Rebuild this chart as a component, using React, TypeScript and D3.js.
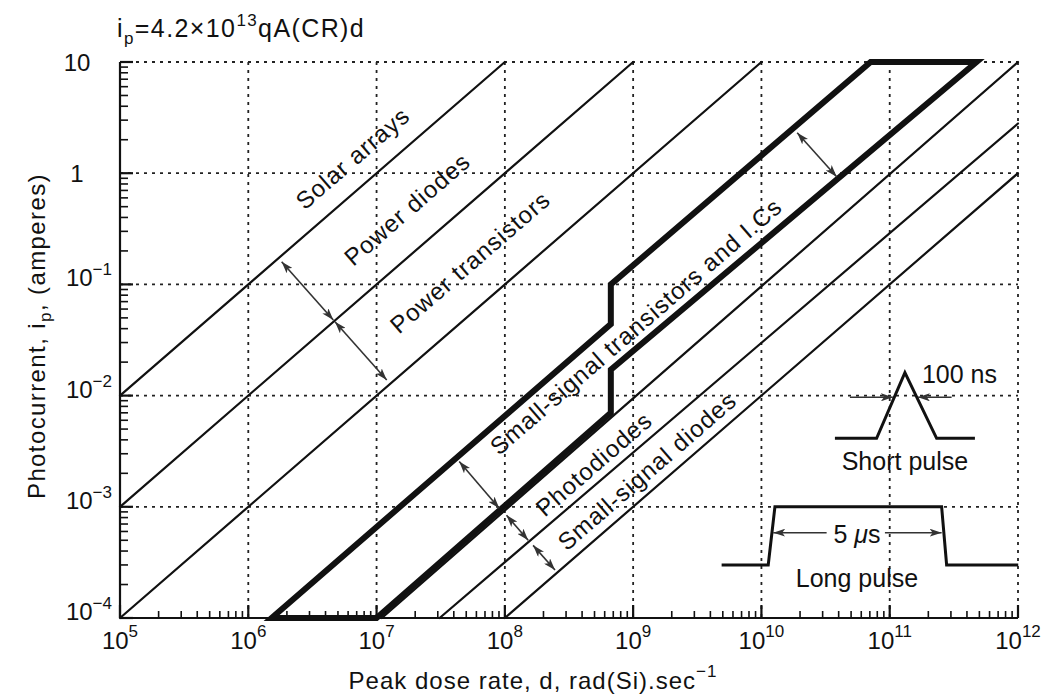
import React from "react";
import * as d3 from "d3";

// plot frame (px)
const W = 1053;
const H = 700;
const plot = { left: 120, right: 1018, top: 62, bottom: 618 };

// axes
const xDecades = [1e5, 1e6, 1e7, 1e8, 1e9, 1e10, 1e11, 1e12];
const xExponents = ["5", "6", "7", "8", "9", "10", "11", "12"];
const yDecades = [1e-4, 1e-3, 1e-2, 1e-1, 1, 10];
const yBases = ["10", "10", "10", "10", "1", "10"];
const yExponents = ["\u22124", "\u22123", "\u22122", "\u22121", "", ""];

// device boundary lines, [dose rate, photocurrent] end points
const thinLines: [number, number][][] = [
  [[1e5, 1e-2], [1e8, 10]],
  [[1e5, 1e-3], [1e9, 10]],
  [[1e5, 1e-4], [1e10, 10]],
  [[1.1e7, 1e-4], [1e12, 10]],
  [[3.1e7, 1e-4], [1e12, 2.8]],
  [[1e8, 1e-4], [1e12, 1]],
];

// small-signal transistors / IC envelope (thick outline)
const envelope: [number, number][] = [
  [1.52e6, 1e-4], [6.7e8, 0.044], [6.7e8, 0.1], [7.1e10, 10],
  [4.75e11, 10], [6.7e8, 0.0171], [6.7e8, 0.007], [1e7, 1e-4],
];

// double headed arrows spanning each band
const bandArrows: [number, number][][] = [
  [[1.82e6, 0.16], [4.6e6, 0.0479]],
  [[4.74e6, 0.0462], [1.2e7, 0.0138]],
  [[1.9e10, 2.31], [3.86e10, 0.93]],
  [[4.41e7, 2.55e-3], [9.04e7, 9.7e-4]],
  [[1.03e8, 8.4e-4], [1.52e8, 5.0e-4]],
  [[1.66e8, 4.5e-4], [2.46e8, 2.7e-4]],
];

const bandNames = [
  "Solar arrays", "Power diodes", "Power transistors",
  "Small-signal transistors and I.Cs", "Photodiodes", "Small-signal diodes",
];
const bandLabelAt: [number, number][] = [
  [6.5e6, 1.37], [1.73e7, 0.476], [5.35e7, 0.159],
  [1.05e9, 0.042], [4.94e8, 2.43e-3], [1.28e9, 2.1e-3],
];

const FONT = "'Liberation Sans', Arial, Helvetica, sans-serif";
const INK = "#111";

export default function App() {
  const x = d3.scaleLog().domain([1e5, 1e12]).range([plot.left, plot.right]);
  const y = d3.scaleLog().domain([1e-4, 10]).range([plot.bottom, plot.top]);
  const line = d3.line<[number, number]>().x((d) => x(d[0])).y((d) => y(d[1]));

  const slope = (Math.atan2(y(0.1) - y(1), x(1e6) - x(1e5)) * 180) / Math.PI;

  const xMinor: number[] = [];
  xDecades.slice(0, -1).forEach((d) => d3.range(2, 10).forEach((m) => xMinor.push(d * m)));
  const yMinor: number[] = [];
  yDecades.slice(0, -1).forEach((d) => d3.range(2, 10).forEach((m) => yMinor.push(d * m)));

  const sp = { x: x(1e11), y: y(1e-2) }; // short pulse inset anchor
  const lp = { x: x(1e10), y: y(1e-3) }; // long pulse inset anchor

  return (
    <svg width={W} height={H} style={{ position: "absolute", left: 0, top: 0, background: "#fff" }} fontFamily={FONT}>
      <defs>
        <marker id="ah" viewBox="0 0 12 8" refX="12" refY="4" markerWidth="12" markerHeight="8"
          markerUnits="userSpaceOnUse" orient="auto-start-reverse">
          <path d="M0,0 L12,4 L0,8 L3,4 Z" fill="#333" />
        </marker>
      </defs>

      {/* title */}
      <text x={117} y={37} fontSize={25} fill={INK} letterSpacing={1.4}>
        i<tspan fontSize={17} dy={7}>p</tspan>
        <tspan dy={-7}>=4.2×10</tspan>
        <tspan fontSize={17} dy={-11}>13</tspan>
        <tspan dy={11}>qA(CR)d</tspan>
      </text>

      {/* grid */}
      <g stroke="#222" strokeWidth={1.8} strokeDasharray="3 5">
        {xDecades.slice(1).map((d) => (
          <line key={"gx" + d} x1={x(d)} x2={x(d)} y1={plot.top} y2={plot.bottom} />
        ))}
        {yDecades.slice(1).map((d) => (
          <line key={"gy" + d} x1={plot.left} x2={plot.right} y1={y(d)} y2={y(d)} />
        ))}
      </g>

      {/* axes + ticks */}
      <g stroke={INK} strokeWidth={2.2}>
        <line x1={plot.left} x2={plot.left} y1={plot.top} y2={plot.bottom} />
        <line x1={plot.left} x2={plot.right} y1={plot.bottom} y2={plot.bottom} />
        {xDecades.map((d) => (
          <line key={"tx" + d} x1={x(d)} x2={x(d)} y1={plot.bottom} y2={plot.bottom - 13} />
        ))}
        {xMinor.map((d) => (
          <line key={"mx" + d} x1={x(d)} x2={x(d)} y1={plot.bottom} y2={plot.bottom - 7} strokeWidth={1.6} />
        ))}
        {yDecades.map((d) => (
          <line key={"ty" + d} x1={plot.left} x2={plot.left + 13} y1={y(d)} y2={y(d)} />
        ))}
        {yMinor.map((d) => (
          <line key={"my" + d} x1={plot.left} x2={plot.left + 8} y1={y(d)} y2={y(d)} strokeWidth={1.6} />
        ))}
      </g>

      {/* tick labels */}
      <g fill={INK} fontSize={24}>
        {xDecades.map((d, i) => (
          <text key={"lx" + d} x={x(d)} y={plot.bottom + 31} textAnchor="middle">
            10<tspan fontSize={17} dy={-12}>{xExponents[i]}</tspan>
          </text>
        ))}
        {yDecades.map((d, i) =>
          yExponents[i] ? (
            <text key={"ly" + d} x={112} y={y(d) + 2} textAnchor="end">
              {yBases[i]}
              <tspan fontSize={17} dy={-11}>{yExponents[i]}</tspan>
            </text>
          ) : (
            <text key={"ly" + d} x={77} y={y(d) + 9} textAnchor="middle">
              {yBases[i]}
            </text>
          )
        )}
      </g>

      {/* axis titles */}
      <text x={(plot.left + plot.right) / 2 - 36} y={689} textAnchor="middle" fontSize={24} fill={INK} letterSpacing={1}>
        Peak dose rate, d, rad(Si).sec<tspan fontSize={17} dy={-12}>−1</tspan>
      </text>
      <text transform={`translate(45,${(plot.top + plot.bottom) / 2 - 4}) rotate(-90)`} textAnchor="middle"
        fontSize={24} fill={INK} letterSpacing={1.4}>
        Photocurrent, i<tspan fontSize={17} dy={6}>p</tspan>
        <tspan dy={-6}>, (amperes)</tspan>
      </text>

      {/* device lines */}
      <g fill="none" stroke={INK} strokeLinecap="round">
        {thinLines.map((l, i) => (
          <path key={"l" + i} d={line(l) || ""} strokeWidth={2.2} />
        ))}
        <path d={(line(envelope) || "") + "Z"} strokeWidth={6} strokeLinejoin="miter" />
      </g>

      {/* band arrows */}
      <g stroke="#333" strokeWidth={1.6}>
        {bandArrows.map((a, i) => (
          <line key={"a" + i} x1={x(a[0][0])} y1={y(a[0][1])} x2={x(a[1][0])} y2={y(a[1][1])}
            markerStart="url(#ah)" markerEnd="url(#ah)" />
        ))}
      </g>

      {/* band labels */}
      <g fill={INK} fontSize={24} letterSpacing={1}>
        {bandNames.map((n, i) => (
          <text key={n} textAnchor="middle" dominantBaseline="central"
            transform={`translate(${x(bandLabelAt[i][0])},${y(bandLabelAt[i][1])}) rotate(${-slope})`}>
            {n}
          </text>
        ))}
      </g>

      {/* short pulse inset */}
      <g transform={`translate(${sp.x},${sp.y})`}>
        <polyline points="-54.8,42.7 -13.1,42.7 15.2,-22.9 46.9,42.7 85.2,42.7" fill="none" stroke={INK} strokeWidth={3} />
        <g stroke="#333" strokeWidth={1.6}>
          <line x1={-39.8} y1={1.7} x2={3.2} y2={1.7} markerEnd="url(#ah)" />
          <line x1={61.9} y1={1.7} x2={28.2} y2={1.7} markerEnd="url(#ah)" />
        </g>
        <text x={32.2} y={-12.6} fontSize={25} fill={INK}>100 ns</text>
        <text x={15.2} y={74.4} fontSize={25} fill={INK} textAnchor="middle">Short pulse</text>
      </g>

      {/* long pulse inset */}
      <g transform={`translate(${lp.x},${lp.y})`}>
        <polyline points="-39.8,58.2 6.8,58.2 13.5,0 180.2,0 185.2,58.2 256.8,58.2" fill="none" stroke={INK} strokeWidth={3} />
        <g stroke="#333" strokeWidth={1.6}>
          <line x1={65.2} y1={25.9} x2={11.8} y2={25.9} markerEnd="url(#ah)" />
          <line x1={123.5} y1={25.9} x2={180.2} y2={25.9} markerEnd="url(#ah)" />
        </g>
        <text x={95.5} y={36.2} fontSize={25} fill={INK} textAnchor="middle">
          5 <tspan fontStyle="italic">μ</tspan>s
        </text>
        <text x={95.5} y={80.2} fontSize={25} fill={INK} textAnchor="middle">Long pulse</text>
      </g>
    </svg>
  );
}
